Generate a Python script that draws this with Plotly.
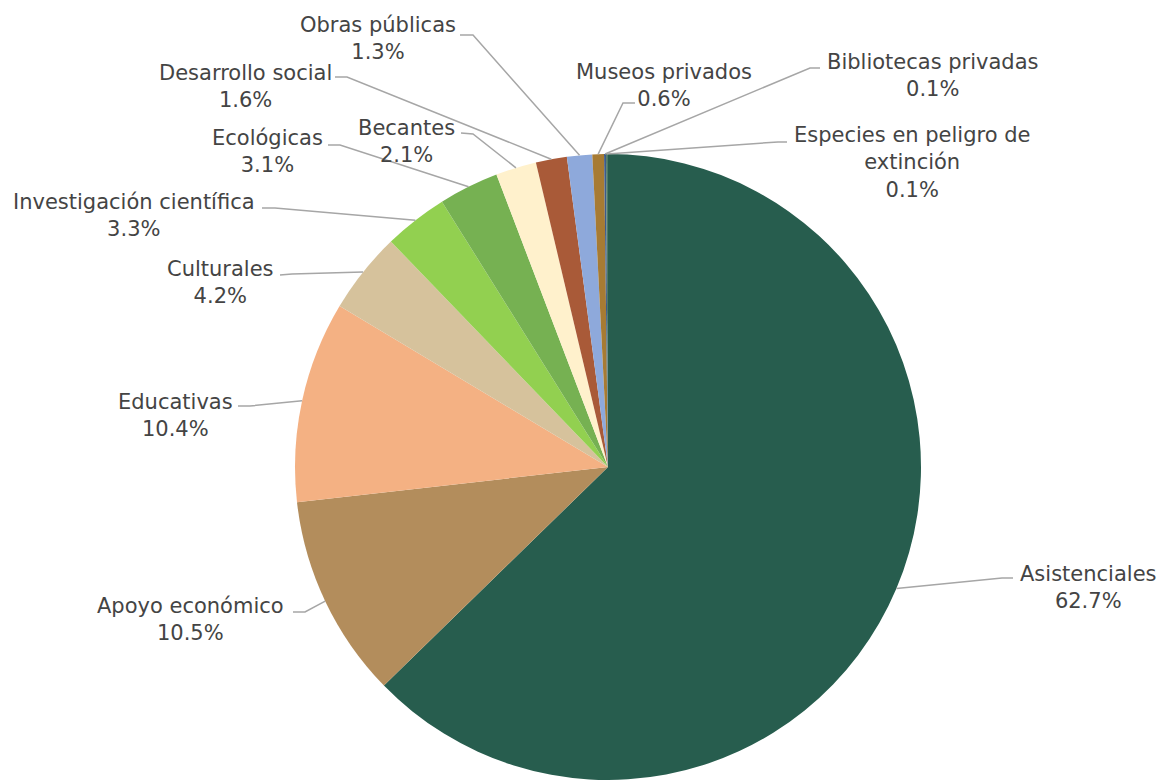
import math
import plotly.graph_objects as go

W, H = 1160, 780
OFF = 0

categories = ["Asistenciales", "Apoyo económico", "Educativas", "Culturales",
              "Investigación científica", "Ecológicas", "Becantes", "Desarrollo social",
              "Obras públicas", "Museos privados", "Bibliotecas privadas",
              "Especies en peligro de extinción"]
values = [62.7, 10.5, 10.4, 4.2, 3.3, 3.1, 2.1, 1.6, 1.3, 0.6, 0.1, 0.1]

colors = ["#275D4E", "#B38D5C", "#F4B183", "#D6C29C", "#92D050", "#76B152",
          "#FFF1CC", "#A95A38", "#8EA9DB", "#A77B33", "#3C5A8A", "#4F7A66"]

# label text (with line breaks) per category
label_text = ["Asistenciales", "Apoyo económico", "Educativas", "Culturales",
              "Investigación científica", "Ecológicas", "Becantes", "Desarrollo social",
              "Obras públicas", "Museos privados", "Bibliotecas privadas",
              "Especies en peligro de<br>extinción"]

# layout: label block centers (px), leader text-side end (px), elbow (px)
label_pos = [(1088, 587), (190, 619), (175, 415), (220, 282), (134, 215), (267, 152),
             (406, 141), (245, 86), (378, 38), (664, 85), (933, 75), (912, 162)]
leader_end = [(1013, 578), (293, 612), (238, 406), (280, 275), (262, 208), (328, 145),
              (461, 133), (335, 77), (460, 35), (635, 103), (820, 68), (787, 142)]
leader_elbow = [(1002, 578), (305, 612), (250, 406), (292, 274), (275, 208), (340, 145),
                (473, 134), (347, 77), (473, 35), (623, 103), (810, 68), (778, 142)]

CX, CY, R = 608, 467, 313

def px(x):
    return (x - OFF) / W

def py(y):
    return 1 - (y - OFF) / H

fig = go.Figure(go.Pie(
    labels=categories, values=values, sort=False, direction="clockwise", rotation=0,
    marker=dict(colors=colors, line=dict(width=0)),
    textinfo="none", hoverinfo="label+percent", showlegend=False,
    domain=dict(x=[px(CX - R), px(CX + R)], y=[max(0, py(CY + R)), py(CY - R)]),
))

total = sum(values)
cum = 0.0
annotations = []
shapes = []
for i, v in enumerate(values):
    mid = (cum + v / 2) / total * 2 * math.pi
    cum += v
    ex = CX + R * math.sin(mid)
    ey = CY - R * math.cos(mid)
    lx, ly = label_pos[i]
    tx, ty = leader_end[i]
    bx, by = leader_elbow[i]
    shapes.append(dict(
        type="path", xref="paper", yref="paper",
        path=f"M {px(tx)} {py(ty)} L {px(bx)} {py(by)} L {px(ex)} {py(ey)}",
        line=dict(color="#A6A6A6", width=1.5)))
    annotations.append(dict(
        x=px(lx), y=py(ly), xref="paper", yref="paper",
        text=f"{label_text[i]}<br>{v:.1f}%", showarrow=False,
        xanchor="center", yanchor="middle", align="center",
        font=dict(family="DejaVu Sans", size=21, color="#444444")))

fig.update_layout(
    width=W, height=H, margin=dict(l=0, r=0, t=0, b=0),
    paper_bgcolor="white", plot_bgcolor="white",
    annotations=annotations, shapes=shapes,
)

fig.write_html("out.html",
               config={"displayModeBar": False},
               post_script="document.body.style.margin='0';document.body.style.overflow='hidden';")
